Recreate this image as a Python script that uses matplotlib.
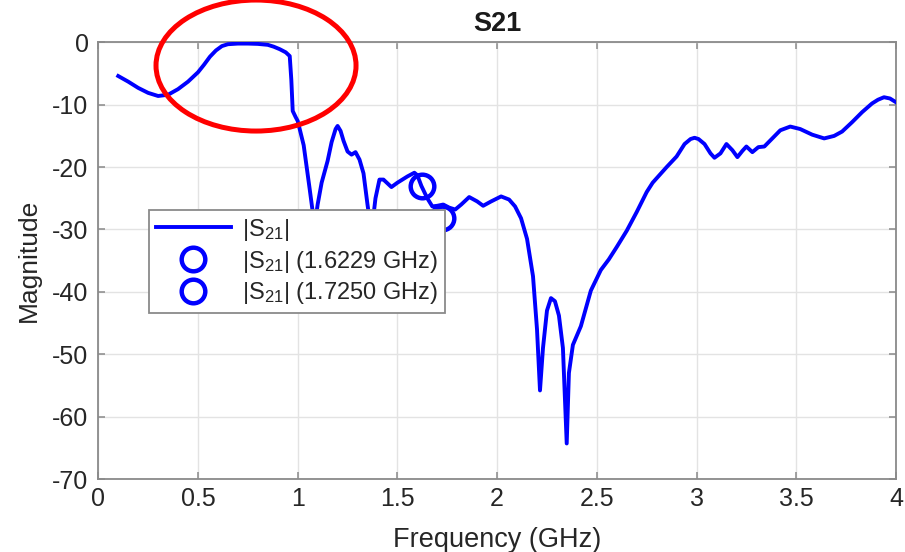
import matplotlib
matplotlib.use("Agg")
import matplotlib.pyplot as plt
from matplotlib.patches import Ellipse

plt.rcParams['font.family'] = ['Liberation Sans', 'DejaVu Sans']
plt.rcParams['mathtext.fontset'] = 'custom'
plt.rcParams['mathtext.rm'] = 'Liberation Sans'
plt.rcParams['mathtext.it'] = 'Liberation Sans'
plt.rcParams['axes.unicode_minus'] = False

# S21 curve
freq = [0.10, 0.15, 0.20, 0.25, 0.30, 0.35, 0.40, 0.45, 0.50, 0.53, 0.56, 0.59,
        0.62, 0.65, 0.70, 0.75, 0.80, 0.85, 0.88, 0.91, 0.94, 0.96, 0.968, 0.975,
        0.99, 1.00, 1.03, 1.06, 1.085, 1.10, 1.12, 1.15, 1.17, 1.19, 1.20, 1.215,
        1.23, 1.25, 1.27, 1.29, 1.31, 1.33, 1.35, 1.37, 1.39, 1.41, 1.43, 1.47,
        1.50, 1.55, 1.585, 1.60, 1.62, 1.65, 1.675, 1.70, 1.73, 1.76, 1.79, 1.82,
        1.86, 1.90, 1.93, 1.97, 2.02, 2.06, 2.09, 2.12, 2.15, 2.18, 2.20, 2.215,
        2.23, 2.25, 2.27, 2.29, 2.31, 2.33, 2.349, 2.36, 2.38, 2.42, 2.47, 2.52,
        2.56, 2.60, 2.65, 2.70, 2.75, 2.78, 2.85, 2.90, 2.94, 2.97, 2.99, 3.01,
        3.04, 3.07, 3.09, 3.12, 3.15, 3.18, 3.205, 3.23, 3.25, 3.28, 3.31, 3.34,
        3.38, 3.42, 3.47, 3.52, 3.58, 3.64, 3.69, 3.73, 3.78, 3.83, 3.88, 3.91,
        3.94, 3.97, 4.00]
mag = [-5.4, -6.3, -7.3, -8.1, -8.6, -8.4, -7.5, -6.3, -4.8, -3.6, -2.3, -1.3,
       -0.6, -0.3, -0.2, -0.2, -0.25, -0.4, -0.7, -1.1, -1.6, -2.2, -6.0, -11.0,
       -12.0, -12.6, -16.5, -23.5, -29.5, -26.0, -22.5, -19.0, -16.0, -13.9, -13.4, -14.2,
       -15.8, -17.5, -18.0, -17.6, -18.8, -21.0, -26.0, -30.5, -25.0, -22.0, -22.0, -23.2,
       -22.5, -21.5, -20.9, -21.3, -23.0, -25.0, -26.3, -26.2, -26.0, -26.5, -26.8, -26.0,
       -24.8, -25.5, -26.2, -25.5, -24.7, -25.2, -26.3, -28.2, -31.5, -37.5, -46.0, -55.8,
       -49.0, -43.0, -41.0, -41.5, -43.8, -49.0, -64.3, -53.0, -48.5, -45.5, -39.8, -36.5,
       -34.8, -32.8, -30.2, -27.2, -24.0, -22.5, -20.0, -18.3, -16.3, -15.5, -15.3, -15.5,
       -16.3, -17.8, -18.5, -17.8, -16.3, -17.3, -18.4, -17.4, -16.7, -17.6, -16.8, -16.7,
       -15.4, -14.1, -13.5, -13.9, -14.8, -15.4, -15.0, -14.3, -12.8, -11.2, -9.8, -9.2,
       -8.8, -9.0, -9.6]

marker_freq = [1.6229, 1.7250]
marker_mag = [-23.1, -28.2]
marker_labels = [r'|S$_{21}$| (1.6229 GHz)', r'|S$_{21}$| (1.7250 GHz)']

xticks = [0, 0.5, 1, 1.5, 2, 2.5, 3, 3.5, 4]
xticklabels = ['0', '0.5', '1', '1.5', '2', '2.5', '3', '3.5', '4']
yticks = [-70, -60, -50, -40, -30, -20, -10, 0]

fig = plt.figure(figsize=(9.05, 5.52), dpi=100)
ax = fig.add_axes([0.1086, 0.1322, 0.8814, 0.7911])

ax.plot(freq, mag, color='blue', lw=2.8, label=r'|S$_{21}$|', zorder=3,
        solid_joinstyle='round')
for f, m, lab in zip(marker_freq, marker_mag, marker_labels):
    ax.plot([f], [m], 'o', mfc='none', mec='blue', mew=3.2, ms=17, label=lab, zorder=4)

ax.set_xlim(0, 4)
ax.set_ylim(-70, 0)
ax.set_xticks(xticks)
ax.set_xticklabels(xticklabels)
ax.set_yticks(yticks)
ax.grid(True, color='#e3e3e3', lw=1.0)
ax.set_axisbelow(True)

for s in ax.spines.values():
    s.set_color('#8a8a8a')
    s.set_linewidth(1.3)
ax.tick_params(direction='in', length=5, width=1.1, color='#8a8a8a',
               labelsize=18, labelcolor='#262626', top=True, right=True)
ax.tick_params(axis='x', pad=6)
ax.tick_params(axis='y', pad=7)

ax.set_title('S21', fontsize=19.5, fontweight='bold', color='#1a1a1a', pad=8)
ax.set_xlabel('Frequency (GHz)', fontsize=19.5, color='#262626', labelpad=11)
ax.set_ylabel('Magnitude', fontsize=19, color='#262626', labelpad=8)

# red highlight ring around the passband
ring = Ellipse((0.791, -3.72), 1.003, 21.0, transform=ax.transData, fill=False,
               edgecolor='red', lw=3.6, clip_on=False, zorder=6)
ax.add_patch(ring)

leg = ax.legend(loc='upper left', bbox_to_anchor=(0.0636, 0.616), borderaxespad=0,
                fontsize=17, handlelength=3.2, handletextpad=0.45, labelspacing=0.25,
                borderpad=0.28, fancybox=False, framealpha=1, edgecolor='#8a8a8a')
leg.get_frame().set_linewidth(1.3)
for t in leg.get_texts():
    t.set_color('#262626')
leg.set_zorder(5)

fig.savefig('out.png', dpi=100)
